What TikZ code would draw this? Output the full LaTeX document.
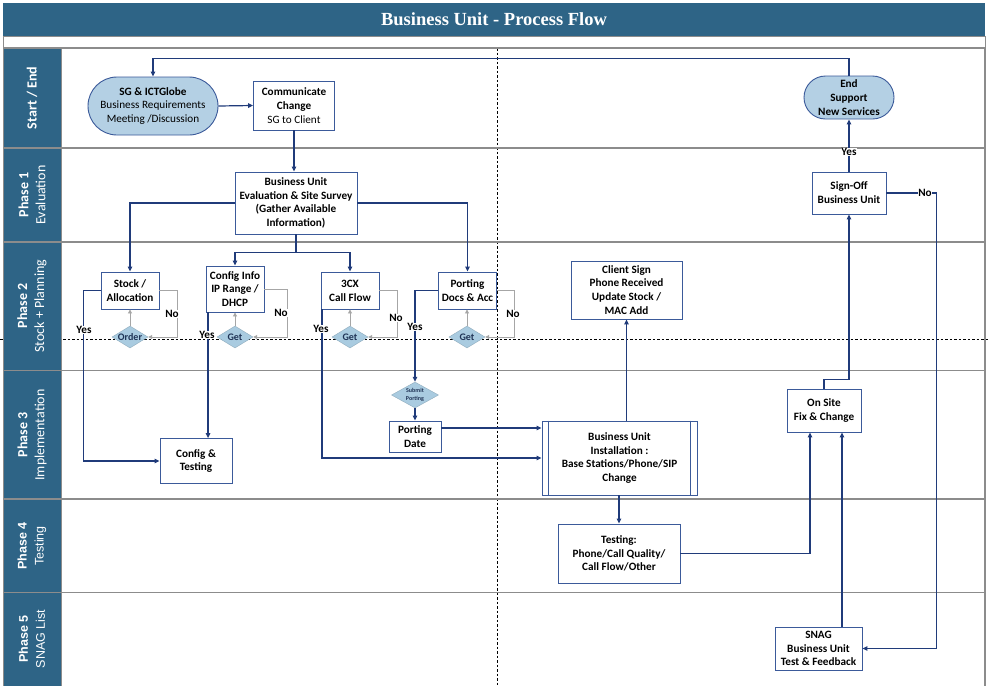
\documentclass[tikz,border=0pt]{standalone}
\usepackage{fontspec}
\setmainfont{Carlito}
\newfontfamily\ttlfont{Liberation Serif}
\newfontfamily\arialf{Liberation Sans}
\usetikzlibrary{arrows.meta,calc,shapes.geometric}
\definecolor{lanec}{HTML}{2E6486}
\definecolor{navy}{HTML}{203B7A}
\definecolor{boxc}{HTML}{3B5A9A}
\definecolor{lightb}{HTML}{B4D0E4}
\definecolor{diamc}{HTML}{A9CBE0}
\definecolor{sepc}{HTML}{8C8C8C}
\definecolor{loopc}{HTML}{A6A6A6}
\definecolor{dtxt}{HTML}{1F3355}
\newcommand\bxfont{\fontsize{11.2}{13.8}\selectfont}
\newcommand\lnfont{\fontsize{14}{17}\selectfont}
\newcommand\lnfontb{\arialf\fontsize{12.5}{17}\selectfont}
\begin{document}
\begin{tikzpicture}[x=1pt,y=-1pt,
  box/.style={draw=boxc, line width=0.9pt, fill=white, inner sep=0pt, align=center, font=\bxfont, text=black},
  stadium/.style={box, fill=lightb},
  conn/.style={draw=navy, line width=1.2pt, -{Triangle[length=5pt,width=4.5pt]}},
  plain/.style={draw=navy, line width=1.2pt},
  lp/.style={draw=loopc, line width=0.9pt, -{Triangle[length=4pt,width=4pt]}},
  lab/.style={fill=white, inner sep=0.6pt, font=\bxfont\bfseries, text=black},
  dia/.style={diamond, draw=diamc!85!black, line width=0.4pt, fill=diamc, inner sep=0pt, minimum width=36pt, minimum height=22pt},
  dtext/.style={font=\fontsize{10}{11}\selectfont\bfseries, text=dtxt, inner sep=0pt},
  lanelab/.style={rotate=90, text=white, align=center, font=\lnfont, inner sep=0pt},
  dsh/.style={draw=black, line width=0.5pt, dash pattern=on 2.5pt off 2pt}
]
\useasboundingbox (0,0) rectangle (988,686);
\fill[white] (0,0) rectangle (988,686);
% title bar
\fill[lanec] (3,3) rectangle (985,36);
\node[font=\ttlfont\bfseries\fontsize{18.5}{20}\selectfont, text=white, inner sep=0pt] (title) at (494,19) {Business Unit - Process Flow};
\draw[sepc, line width=1pt] (3,36.5) rectangle (985,47.5);
% dashed guides
\draw[dsh] (497,48) -- (497,686);
\draw[dsh] (0,339) -- (988,339);
% lane label column
\foreach \a/\b in {48/148, 148/242, 242/370.5, 370.5/499, 499/592.5, 592.5/686}
  {\fill[lanec] (3,\a) rectangle (61,\b);}
\foreach \yy in {48,148,242,370.5,499,592.5}
  {\draw[sepc, line width=1.8pt] (3,\yy) -- (985,\yy);}
\draw[sepc, line width=1.5pt] (985,48) -- (985,686);
\draw[sepc, line width=1pt] (61,48) -- (61,686);
\draw[sepc, line width=1pt] (3,48) -- (3,686);
% lane labels
\node[lanelab] (l1) at (32,98) {\bfseries Start / End};
\node[lanelab] (l2) at (32,195) {\bfseries Phase 1\\Evaluation};
\node[lanelab] (l3) at (32,306) {\bfseries Phase 2\\Stock + Planning};
\node[lanelab] (l4) at (32,435) {\bfseries Phase 3\\Implementation};
\node[lanelab, font=\lnfontb] (l5) at (32,546) {\bfseries Phase 4\\Testing};
\node[lanelab, font=\lnfontb] (l6) at (32,639) {\bfseries Phase 5\\SNAG List};

% nodes
\node[stadium, rounded corners=29pt, minimum width=130pt, minimum height=58pt] (sg) at (153,106)
  {\textbf{SG \& ICTGlobe}\\Business Requirements\\Meeting /Discussion};
\node[box, minimum width=81pt, minimum height=49pt] (comm) at (294,105.5)
  {\textbf{Communicate}\\\textbf{Change}\\SG to Client};
\node[box, font=\bxfont\bfseries, minimum width=122pt, minimum height=62pt] (eval) at (296,203)
  {Business Unit\\Evaluation \& Site Survey\\(Gather Available\\Information)};
\node[stadium, font=\bxfont\bfseries, rounded corners=21.5pt, minimum width=90pt, minimum height=43pt] (endn) at (849,97.5)
  {End\\Support\\New Services};
\node[box, font=\bxfont\bfseries, minimum width=74pt, minimum height=42pt] (signoff) at (849,193)
  {Sign-Off\\Business Unit};

\node[box, font=\bxfont\bfseries, minimum width=58pt, minimum height=37pt] (stock) at (130,290.5) {Stock /\\Allocation};
\node[box, font=\bxfont\bfseries, minimum width=58pt, minimum height=46pt] (cfg) at (235,289) {Config Info\\IP Range /\\DHCP};
\node[box, font=\bxfont\bfseries, minimum width=58pt, minimum height=37pt] (cx) at (350,290.5) {3CX\\Call Flow};
\node[box, font=\bxfont\bfseries, minimum width=58pt, minimum height=37pt] (port) at (467.5,290.5) {Porting\\Docs \& Acc};
\node[box, font=\bxfont\bfseries, minimum width=111pt, minimum height=58pt] (client) at (626.5,290)
  {Client Sign\\Phone Received\\Update Stock /\\MAC Add};

\node[dia, label={[dtext]center:Order}] (order) at (130,337) {};
\node[dia, label={[dtext]center:Get}] (get1) at (235,337) {};
\node[dia, label={[dtext]center:Get}] (get2) at (350,337) {};
\node[dia, label={[dtext]center:Get}] (get3) at (467,337) {};

\node[dia, minimum width=47pt, minimum height=26pt,
  label={[dtext, font=\fontsize{6}{7.5}\selectfont\bfseries, align=center]center:Submit\\Porting}] (submit) at (415,395) {};
\node[box, font=\bxfont\bfseries, minimum width=52pt, minimum height=31pt] (pdate) at (415,436.5) {Porting\\Date};
\node[box, font=\bxfont\bfseries, minimum width=72pt, minimum height=45pt] (cfgtest) at (196,461) {Config \&\\Testing};
\node[box, font=\bxfont\bfseries, minimum width=155pt, minimum height=74pt] (inst) at (619.5,458)
  {Business Unit\\Installation :\\Base Stations/Phone/SIP\\Change};
\draw[boxc, line width=0.9pt] ($(inst.north west)+(7,0)$) -- ($(inst.south west)+(7,0)$);
\draw[boxc, line width=0.9pt] ($(inst.north east)+(-7,0)$) -- ($(inst.south east)+(-7,0)$);
\node[box, font=\bxfont\bfseries, minimum width=74pt, minimum height=43pt] (onsite) at (824,410.5) {On Site\\Fix \& Change};
\node[box, font=\bxfont\bfseries, minimum width=122pt, minimum height=59pt] (test) at (619,553.5)
  {Testing:\\Phone/Call Quality/\\Call Flow/Other};
\node[box, font=\bxfont\bfseries, minimum width=87pt, minimum height=43pt] (snag) at (818.5,648.5)
  {SNAG\\Business Unit\\Test \& Feedback};

% connectors
\draw[conn] (endn.north) |- ($(sg.north)+(0,-18)$) -- (sg.north);
\draw[conn] (sg.east) -- (comm.west);
\draw[conn] (comm.south) -- (comm.south |- eval.north);
\draw[conn] (eval.west) -| (stock.north);
\draw[conn] (eval.east) -| (port.north);
\draw[plain] (eval.south) -- ++(0,18) coordinate (split);
\draw[conn] (split) -| (cfg.north);
\draw[conn] (split) -| (cx.north);

% Yes branches
\draw[conn] (stock.west) -- ++(-17,0) |- (cfgtest.west);
\coordinate (cfgx) at ($(cfg.south west)+(2.5,0)$);
\draw[conn] (cfgx) -- (cfgx |- cfgtest.north);
\coordinate (cxx) at ($(cx.south west)+(1.5,0)$);
\draw[conn] (cxx) |- (inst.west);
\draw[conn] (port.west) -| (submit.north);
\draw[conn] (submit.south) -- (pdate.north);
\coordinate (pdx) at ($(pdate.east)+(0,-8.5)$);
\draw[conn] (pdx) -- (pdx -| inst.west);
\draw[conn] (client.south |- inst.north) -- (client.south);
\draw[conn] (inst.south -| test.north) -- (test.north);
\coordinate (osa) at ($(onsite.south)+(-14,0)$);
\draw[conn] (test.east) -| (osa);
\coordinate (osb) at ($(onsite.south)+(18,0)$);
\draw[conn] (osb |- snag.north) -- (osb);
\draw[conn] (onsite.north) -- ++(0,-9) -| (signoff.south);
\draw[conn] (signoff.north) -- (endn.south);
\draw[conn] (signoff.east) -- ++(50,0) |- (snag.east);

% grey loops
\draw[lp] (order.north) -- (order.north |- stock.south);
\draw[lp] (stock.east) -- ++(18,0) |- (order.east);
\draw[lp] (get1.north) -- (get1.north |- cfg.south);
\draw[lp] (cfg.east) -- ++(23,0) |- (get1.east);
\draw[lp] (get2.north) -- (get2.north |- cx.south);
\draw[lp] (cx.east) -- ++(18,0) |- (get2.east);
\draw[lp] (get3.north) -- (get3.north |- port.south);
\draw[lp] (port.east) -- ++(17,0) |- (get3.east);

% labels
\node[lab] (y1) at (84,330) {Yes};
\node[lab] (y2) at (207,335) {Yes};
\node[lab] (y3) at (321,329) {Yes};
\node[lab] (y4) at (415,327) {Yes};
\node[lab] (y5) at (849,152) {Yes};
\node[lab] (n1) at (172,314) {No};
\node[lab] (n2) at (281,313) {No};
\node[lab] (n3) at (396,318) {No};
\node[lab] (n4) at (513,314) {No};
\node[lab] (n5) at (925,193) {No};
\end{tikzpicture}
\end{document}
